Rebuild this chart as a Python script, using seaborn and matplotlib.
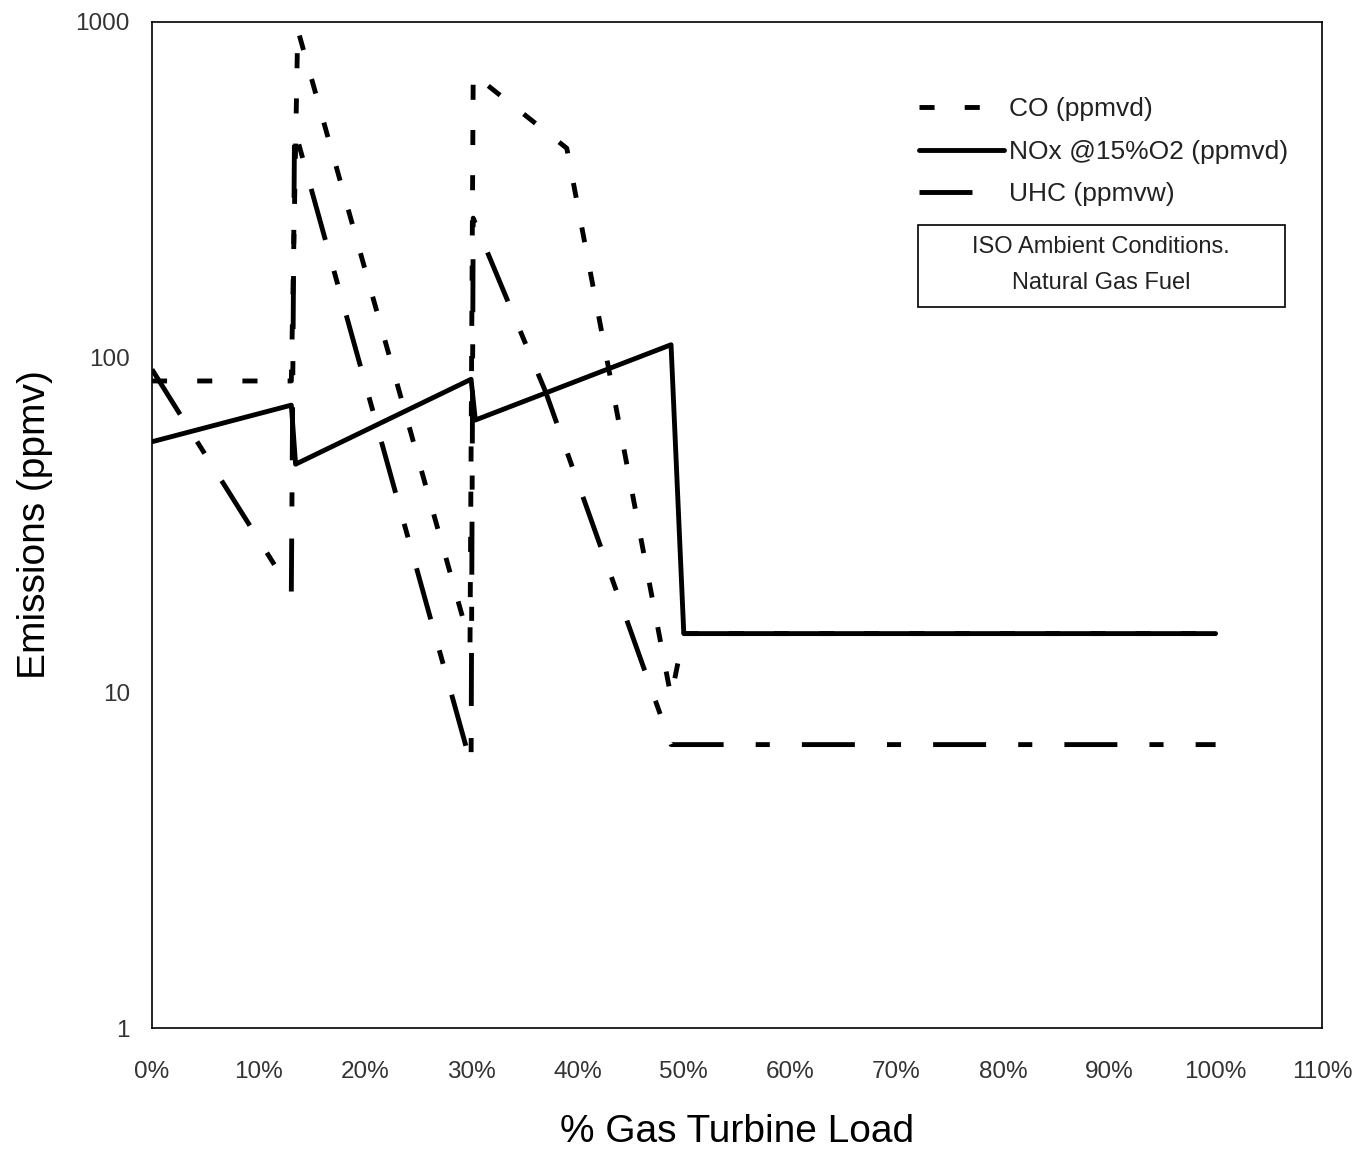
import pandas as pd
import matplotlib
matplotlib.use("Agg")
import matplotlib.pyplot as plt
import seaborn as sns
from matplotlib.patches import Rectangle

# Data (load in %, emissions in ppmv)
load_co = [0, 13.1, 13.7, 29.9, 30.2, 39.0, 48.8, 50.0, 100]
co_ppm = [85, 85, 950, 14, 700, 420, 9.7, 15, 15]

load_nox = [0, 13.1, 13.5, 30.0, 30.4, 48.8, 50.0, 100]
nox_ppm = [56, 72, 48, 86, 65, 109, 15, 15]

load_uhc = [0, 3.8, 13.1, 13.4, 30.0, 30.2, 37.0, 48.8, 100]
uhc_ppm = [92, 59, 20, 480, 6.1, 260, 79, 7.0, 7.0]

series_names = ["CO (ppmvd)", "NOx @15%O2 (ppmvd)", "UHC (ppmvw)"]

x_ticks = [0, 10, 20, 30, 40, 50, 60, 70, 80, 90, 100, 110]
x_tick_labels = ["0%", "10%", "20%", "30%", "40%", "50%", "60%",
                 "70%", "80%", "90%", "100%", "110%"]
y_ticks = [1, 10, 100, 1000]
y_tick_labels = ["1", "10", "100", "1000"]

df = pd.concat([
    pd.DataFrame({"load": load_co, "ppm": co_ppm, "series": series_names[0]}),
    pd.DataFrame({"load": load_nox, "ppm": nox_ppm, "series": series_names[1]}),
    pd.DataFrame({"load": load_uhc, "ppm": uhc_ppm, "series": series_names[2]}),
], ignore_index=True)

sns.set_theme(style="white")
plt.rcParams['font.family'] = ['Liberation Sans', 'DejaVu Sans']

fig = plt.figure(figsize=(13.62, 11.49), dpi=100)
ax = fig.add_axes([0.1116, 0.1053, 0.8590, 0.8756])

lw = 3.5
sns.lineplot(data=df, x="load", y="ppm", hue="series", style="series",
             palette={n: "black" for n in series_names},
             dashes={series_names[0]: (3.1, 6.2),
                     series_names[1]: "",
                     series_names[2]: (10.9, 6.6, 2.9, 6.6)},
             sort=False, estimator=None, linewidth=lw, ax=ax)

ax.set_yscale("log")
ax.set_xlim(0, 110)
ax.set_ylim(1, 1000)
ax.set_xticks(x_ticks)
ax.set_xticklabels(x_tick_labels)
ax.set_yticks(y_ticks)
ax.set_yticklabels(y_tick_labels)
ax.minorticks_off()
ax.tick_params(axis="x", length=0, pad=24, labelsize=17.5, labelcolor="#333333")
ax.tick_params(axis="y", length=0, pad=16, labelsize=17.5, labelcolor="#333333")

for s in ax.spines.values():
    s.set_color("black")
    s.set_linewidth(1.2)

ax.set_xlabel("% Gas Turbine Load", fontsize=28, labelpad=22, color="black")
ax.set_ylabel("Emissions (ppmv)", fontsize=28, labelpad=16, color="black")

# Legend without frame
handles, labels = ax.get_legend_handles_labels()
leg = ax.legend(handles, labels, loc="upper left", bbox_to_anchor=(0.656, 0.925),
                frameon=False, fontsize=19, handlelength=3.2, handletextpad=0.2,
                labelspacing=0.7, borderpad=0, borderaxespad=0)
for line in leg.get_lines():
    line.set_linewidth(lw)
    line.set_color("black")
for t in leg.get_texts():
    t.set_color("#222222")

# Annotation box
ax.add_patch(Rectangle((0.6547, 0.7167), 0.3137, 0.0815, transform=ax.transAxes,
                       fill=False, edgecolor="black", linewidth=1.2))
ax.text(0.811, 0.7585, "ISO Ambient Conditions.\nNatural Gas Fuel",
        transform=ax.transAxes, ha="center", va="center", fontsize=17,
        linespacing=1.8, color="#222222")

fig.savefig("out.png", dpi=100)
